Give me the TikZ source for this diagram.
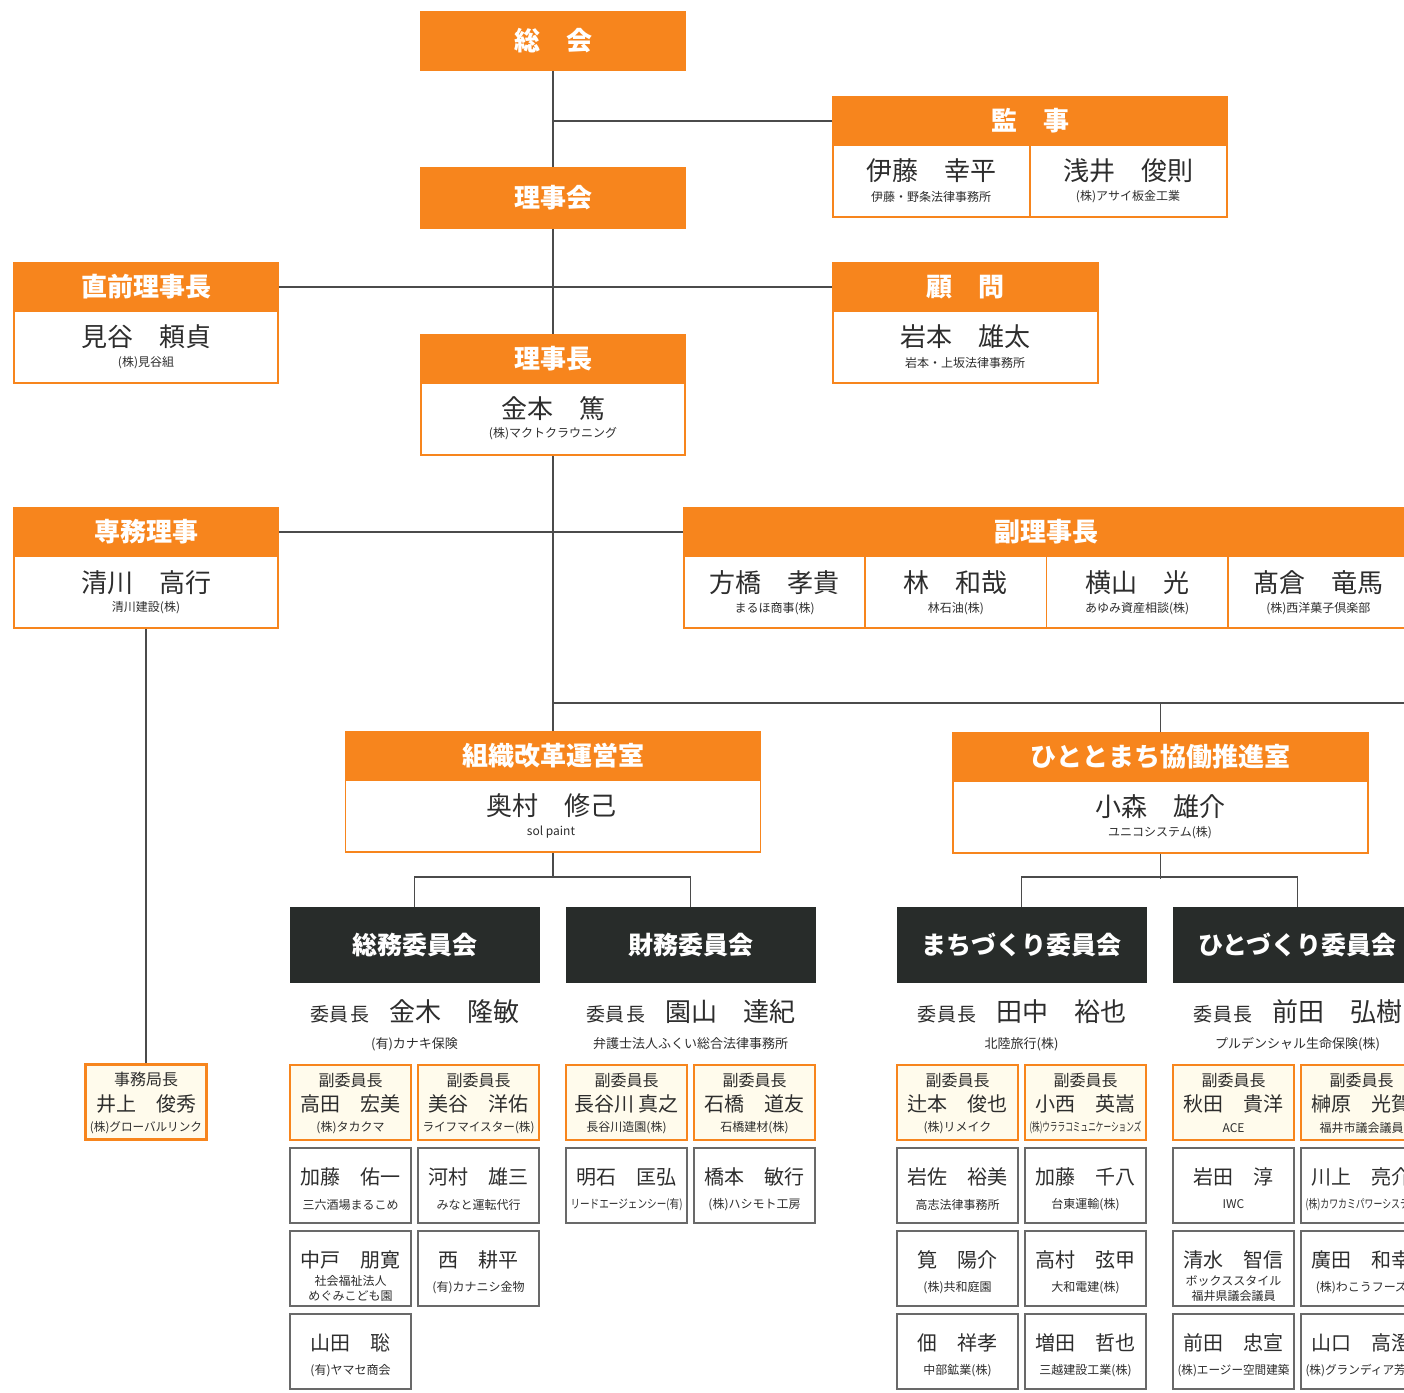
\documentclass[tikz,border=0pt]{standalone}
\usepackage{fontspec}
\setmainfont{Noto Sans CJK JP}
\usetikzlibrary{positioning}
\definecolor{orng}{RGB}{247,133,29}
\definecolor{darkhd}{RGB}{40,44,42}
\definecolor{cream}{RGB}{255,251,236}
\definecolor{boxgray}{RGB}{105,105,105}
\definecolor{linegray}{RGB}{75,75,75}
\definecolor{txt}{RGB}{45,45,45}
\newlength\cowd
\newcommand\cofit[2]{\settowidth\cowd{#2}\ifdim\cowd>#1\resizebox{#1}{\height}{#2}\else#2\fi}
\tikzset{
  hd/.style={fill=orng, draw=orng, line width=1.5pt, text=white, font=\fontsize{26}{26}\selectfont\bfseries, minimum height=48pt, inner sep=0pt},
  bd/.style={fill=white, draw=orng, line width=1.5pt, minimum height=72pt, inner sep=0pt},
  cmhd/.style={fill=darkhd, draw=darkhd, text=white, font=\fontsize{25}{25}\selectfont\bfseries, minimum width=249pt, minimum height=75pt, inner sep=0pt},
  vcbox/.style={fill=cream, draw=orng, line width=2.5pt, minimum width=121pt, minimum height=75pt, inner sep=0pt},
  mbox/.style={fill=white, draw=boxgray, line width=2pt, minimum width=121pt, minimum height=75pt, inner sep=0pt},
  bign/.style={text=txt, font=\fontsize{26}{26}\selectfont, inner sep=0pt},
  midn/.style={text=txt, font=\fontsize{20}{20}\selectfont, inner sep=0pt},
  role/.style={text=txt, font=\fontsize{16}{16}\selectfont, inner sep=0pt},
  comp/.style={text=txt, font=\fontsize{12}{15}\selectfont, align=center, inner sep=0pt},
  ln/.style={draw=linegray, line width=1.5pt}
}
\begin{document}
\begin{tikzpicture}[x=1pt, y=-1pt]
  \useasboundingbox (0,0) rectangle (1404,1392);
  \fill[white] (0,0) rectangle (1404,1392);
  \clip (0,0) rectangle (1404,1392);

  % top part
  \node[hd, minimum width=264pt, minimum height=58pt] (soukai) at (553,41) {総　会};
  \node[hd, minimum width=264pt, minimum height=60pt] (rijikai) at (553,198) {理事会};

  \node[hd, minimum width=394pt] (kanji) at (1030,121) {監　事};
  \node[bd, minimum width=197pt] (kanji1) at (931.5,181) {};
  \node[bd, minimum width=197pt] (kanji2) at (1128.5,181) {};
  \node[bign] (kanji1n) at (931,171) {伊藤　幸平};
  \node[comp] (kanji1c) at (931,197) {伊藤・野条法律事務所};
  \node[bign] (kanji2n) at (1128,171) {浅井　俊則};
  \node[comp] (kanji2c) at (1128,197) {(株)アサイ板金工業};

  \node[hd, minimum width=264pt] (zenri) at (146,287) {直前理事長};
  \node[bd, minimum width=264pt] (zenribd) at (146,347) {};
  \node[bign] (zenrin) at (146,337) {見谷　頼貞};
  \node[comp] (zenric) at (146,363) {(株)見谷組};

  \node[hd, minimum width=265pt] (komon) at (965.5,287) {顧　問};
  \node[bd, minimum width=265pt] (komonbd) at (965.5,347) {};
  \node[bign] (komonn) at (965,337) {岩本　雄太};
  \node[comp] (komonc) at (965,363) {岩本・上坂法律事務所};

  \node[hd, minimum width=264pt] (rijicho) at (553,359) {理事長};
  \node[bd, minimum width=264pt] (rijichobd) at (553,419) {};
  \node[bign] (rijichon) at (553,409) {金本　篤};
  \node[comp] (rijichoc) at (553,434) {(株)マクトクラウニング};

  \node[hd, minimum width=264pt] (senmu) at (146,532) {専務理事};
  \node[bd, minimum width=264pt] (senmubd) at (146,592) {};
  \node[bign] (senmun) at (146,583) {清川　高行};
  \node[comp] (senmuc) at (146,608) {清川建設(株)};

  \node[hd, minimum width=725pt] (fukuri) at (1046.5,532) {副理事長};
  \foreach \nm/\cx/\who/\co in {f1/774.6/方橋　孝貴/まるほ商事(株), f2/955.9/林　和哉/林石油(株),
      f3/1137.1/横山　光/あゆみ資産相談(株), f4/1318.4/髙倉　竜馬/(株)西洋菓子倶楽部}
  {
    \node[bd, minimum width=181.25pt] (\nm) at (\cx,592) {};
    \node[bign] (\nm n) at (\cx,583) {\who};
    \node[comp] (\nm c) at (\cx,609) {\co};
  }

  % rooms
  \node[hd, minimum width=415pt] (soshiki) at (553,756) {組織改革運営室};
  \node[bd, minimum width=415pt] (soshikibd) at (553,816) {};
  \node[bign] (soshikin) at (551,806) {奥村　修己};
  \node[comp] (soshikic) at (551,832) {sol paint};

  \node[hd, minimum width=415pt] (hitomachi) at (1160.5,757) {ひととまち協働推進室};
  \node[bd, minimum width=415pt] (hitomachibd) at (1160.5,817) {};
  \node[bign] (hitomachin) at (1160,807) {小森　雄介};
  \node[comp] (hitomachic) at (1160,833) {ユニコシステム(株)};

  % committees
  \foreach \nm/\cx/\ttl/\who/\co in {soumu/414.5/総務委員会/金木　隆敏/(有)カナキ保険,
      zaimu/690.5/財務委員会/園山　達紀/弁護士法人ふくい総合法律事務所,
      machi/1021.5/まちづくり委員会/田中　裕也/北陸旅行(株),
      hitoz/1297.5/ひとづくり委員会/前田　弘樹/プルデンシャル生命保険(株)}
  {
    \node[cmhd] (\nm) at (\cx,944.5) {\ttl};
    \node[bign] (\nm n) at (\cx,1012) {{\fontsize{19}{19}\selectfont 委\kern1pt 員\kern1pt 長}\hspace{20pt}\who};
    \node[comp, font=\fontsize{13}{15}\selectfont] (\nm c) at (\cx,1044) {\co};
  }

  \foreach \nm/\cx/\who/\co in {v1/350.5/高田　宏美/(株)タカクマ, v2/478.5/美谷　洋佑/ライフマイスター(株),
      v3/626.5/長谷川 真之/長谷川造園(株), v4/754.5/石橋　道友/石橋建材(株),
      v5/957.5/辻本　俊也/(株)リメイク, v6/1085.5/小西　英嵩/(株)ウララコミュニケーションズ,
      v7/1233.5/秋田　貴洋/ACE, v8/1361.5/榊原　光賀/福井市議会議員}
  {
    \node[vcbox] (\nm) at (\cx,1102.5) {};
    \node[role] (\nm r) at ([yshift=22.5pt]\nm.center) {副委員長};
    \node[midn] (\nm n) at ([yshift=-1.5pt]\nm.center) {\who};
    \node[comp] (\nm c) at ([yshift=-25.5pt]\nm.center) {\cofit{112pt}{\co}};
  }

  \foreach \nm/\cx/\cy/\who/\co in {
      m1/350.5/1185.5/加藤　佑一/三六酒場まるこめ,
      m3/350.5/1351.5/山田　聡/(有)ヤマセ商会,
      m4/478.5/1185.5/河村　雄三/みなと運転代行,
      m5/478.5/1268.5/西　耕平/(有)カナニシ金物,
      m6/626.5/1185.5/明石　匡弘/リードエージェンシー(有),
      m7/754.5/1185.5/橋本　敏行/(株)ハシモト工房,
      m8/957.5/1185.5/岩佐　裕美/高志法律事務所,
      m9/957.5/1268.5/筧　陽介/(株)共和庭園,
      m10/957.5/1351.5/佃　祥孝/中部鉱業(株),
      m11/1085.5/1185.5/加藤　千八/台東運輸(株),
      m12/1085.5/1268.5/高村　弦甲/大和電建(株),
      m13/1085.5/1351.5/増田　哲也/三越建設工業(株),
      m14/1233.5/1185.5/岩田　淳/IWC,
      m16/1233.5/1351.5/前田　忠宣/(株)エージー空間建築,
      m17/1361.5/1185.5/川上　亮介/(株)カワカミパワーシステム,
      m18/1361.5/1268.5/廣田　和幸/(株)わこうフーズ,
      m19/1361.5/1351.5/山口　高澄/(株)グランディア芳泉}
  {
    \node[mbox] (\nm) at (\cx,\cy) {};
    \node[midn] (\nm n) at ([yshift=8.5pt]\nm.center) {\who};
    \node[comp] (\nm c) at ([yshift=-19pt]\nm.center) {\cofit{112pt}{\co}};
  }
  % two-line company names
  \node[mbox] (m2) at (350.5,1268.5) {};
  \node[midn] (m2n) at ([yshift=8.5pt]m2.center) {中戸　朋寛};
  \node[comp] (m2c) at ([yshift=-20pt]m2.center) {社会福祉法人\\めぐみこども園};
  \node[mbox] (m15) at (1233.5,1268.5) {};
  \node[midn] (m15n) at ([yshift=8.5pt]m15.center) {清水　智信};
  \node[comp] (m15c) at ([yshift=-20pt]m15.center) {ボックススタイル\\福井県議会議員};

  \node[vcbox] (jimu) at (146,1102) {};
  \node[role] (jimur) at ([yshift=22.5pt]jimu.center) {事務局長};
  \node[midn] (jimun) at ([yshift=-1.5pt]jimu.center) {井上　俊秀};
  \node[comp] (jimuc) at ([yshift=-25.5pt]jimu.center) {\cofit{112pt}{(株)グローバルリンク}};

  % connectors
  \draw[ln] (soukai) -- (rijikai);
  \draw[ln] (rijikai) -- (rijicho);
  \draw[ln] (rijichobd) -- (soshiki);
  \draw[ln] (kanji.west) -- (kanji.west -| soukai.south);
  \draw[ln] (zenri.east) -- (komon.west);
  \draw[ln] (senmu.east) -- (fukuri.west);
  \draw[ln] (senmubd) -- (jimu);
  \coordinate (br) at (553,703);
  \coordinate (brend) at (1410,703);
  \draw[ln] (br) -- (brend);
  \draw[ln] (hitomachi) -- (hitomachi |- br);
  \draw[ln] (soshikibd.south -| br) -- ++(0,25);
  \draw[ln] (soumu.north) -- ++(0,-30) -| (zaimu.north);
  \draw[ln] (hitomachibd.south) -- ++(0,25);
  \draw[ln] (machi.north) -- ++(0,-30) -| (hitoz.north);
\end{tikzpicture}
\end{document}
